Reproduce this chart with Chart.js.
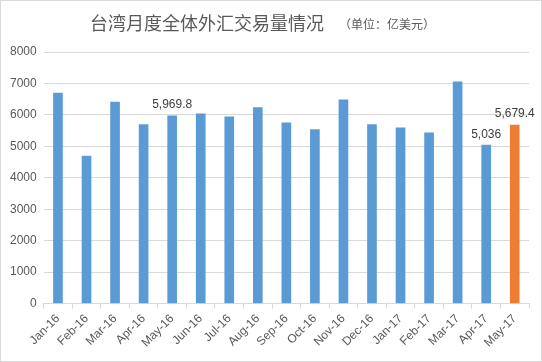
<!DOCTYPE html>
<html>
<head>
<meta charset="utf-8">
<script src="https://cdn.jsdelivr.net/npm/chart.js@4.4.0/dist/chart.umd.min.js"></script>
<style>
  html, body { margin: 0; padding: 0; background: #fff; }
  #wrap { width: 540px; height: 360px; border: 1px solid #d9d9d9; position: relative; }
</style>
</head>
<body>
<div id="wrap"><canvas id="fxChart" width="540" height="360"></canvas></div>
<script>
const months = ['Jan-16', 'Feb-16', 'Mar-16', 'Apr-16', 'May-16', 'Jun-16', 'Jul-16', 'Aug-16',
    'Sep-16', 'Oct-16', 'Nov-16', 'Dec-16', 'Jan-17', 'Feb-17', 'Mar-17', 'Apr-17', 'May-17'];
const volumes = [6690, 4690, 6410, 5690, 5969.8, 6030, 5940, 6230,
    5750, 5530, 6480, 5690, 5590, 5430, 7050, 5036, 5679.4];
const labelledIdx = [4, 15, 16];

const barColors = volumes.map((v, i) => i === volumes.length - 1 ? '#ed7d31' : '#5b9bd5');

const titlePlugin = {
    id: 'titleText',
    afterDraw(chart) {
        const ctx = chart.ctx;
        ctx.save();
        ctx.fillStyle = '#595959';
        ctx.textBaseline = 'middle';
        ctx.textAlign = 'left';
        ctx.font = '18px "Noto Sans CJK SC"';
        ctx.fillText('台湾月度全体外汇交易量情况', 89, 22);
        ctx.font = '12px "Noto Sans CJK SC"';
        ctx.fillText('（单位：亿美元）', 338, 23);
        ctx.restore();
    }
};

const valueLabels = {
    id: 'valueLabels',
    afterDatasetsDraw(chart) {
        const ctx = chart.ctx;
        const meta = chart.getDatasetMeta(0);
        ctx.save();
        ctx.fillStyle = '#404040';
        ctx.font = '12px "Liberation Sans", Arial, sans-serif';
        ctx.textAlign = 'center';
        ctx.textBaseline = 'bottom';
        labelledIdx.forEach(i => {
            const bar = meta.data[i];
            const txt = volumes[i].toLocaleString('en-US', { maximumFractionDigits: 1 });
            ctx.fillText(txt, bar.x, bar.y - 5);
        });
        ctx.restore();
    }
};

new Chart(document.getElementById('fxChart').getContext('2d'), {
    type: 'bar',
    data: {
        labels: months,
        datasets: [{
            data: volumes,
            backgroundColor: barColors,
            barThickness: 9
        }]
    },
    options: {
        responsive: false,
        animation: false,
        layout: { padding: { top: 51, right: 12, left: 2, bottom: 8 } },
        plugins: {
            legend: { display: false },
            tooltip: { enabled: false }
        },
        scales: {
            y: {
                min: 0,
                max: 8000,
                ticks: {
                    stepSize: 1000,
                    color: '#595959',
                    font: { size: 12, family: '"Liberation Sans", Arial, sans-serif' },
                    padding: 7,
                    callback: v => String(v)
                },
                grid: { color: '#d9d9d9', drawTicks: false },
                border: { display: false }
            },
            x: {
                ticks: {
                    color: '#595959',
                    font: { size: 12, family: '"Liberation Sans", Arial, sans-serif' },
                    maxRotation: 45,
                    minRotation: 45,
                    padding: 3
                },
                grid: { color: '#d9d9d9', drawOnChartArea: false, tickLength: 5, offset: true },
                border: { color: '#d9d9d9' }
            }
        }
    },
    plugins: [titlePlugin, valueLabels]
});
</script>
</body>
</html>
